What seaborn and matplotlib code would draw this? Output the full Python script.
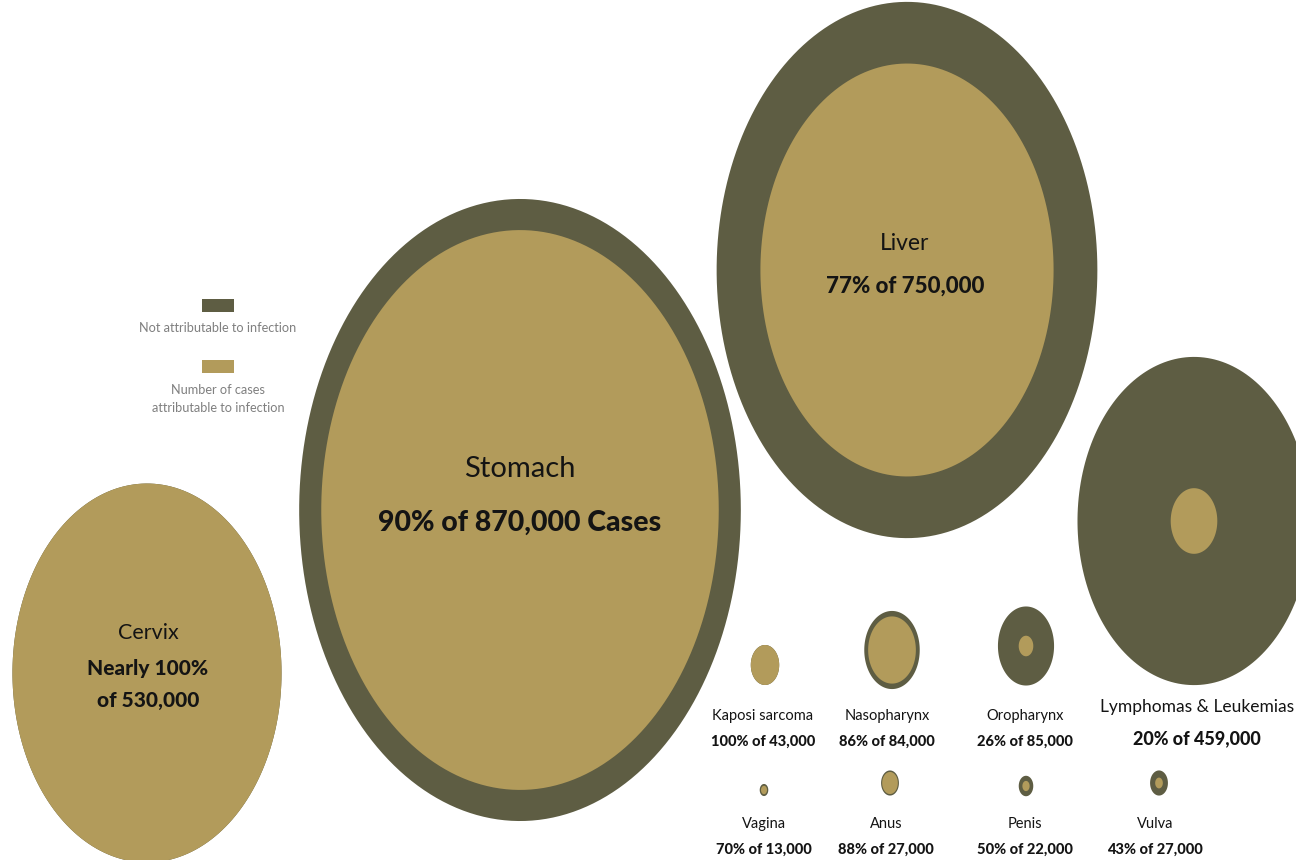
import numpy as np
import pandas as pd
import matplotlib
matplotlib.use('Agg')
import matplotlib.pyplot as plt
from matplotlib.path import Path
from matplotlib.patches import Rectangle
import seaborn as sns

# ── data ──────────────────────────
cancers = ["Cervix", "Stomach", "Liver", "Lymphomas & Leukemias",
           "Kaposi sarcoma", "Nasopharynx", "Oropharynx",
           "Vagina", "Anus", "Penis", "Vulva"]
total_cases = [530000, 870000, 750000, 459000,
               43000, 84000, 85000,
               13000, 27000, 22000, 27000]
pct_infection = [100, 90, 77, 20,
                 100, 86, 26,
                 70, 88, 50, 43]
pct_text = ["Nearly 100%", "90%", "77%", "20%",
            "100%", "86%", "26%",
            "70%", "88%", "50%", "43%"]
group = ["main"] * 4 + ["small"] * 7

# ── layout (pixel positions on a 1296x860 canvas) ──────────────────────────
pos_x = [147, 520, 907, 1194, 765, 892, 1026, 764, 890, 1026, 1159]
pos_y = [673, 510, 270, 521, 665, 650, 646, 790, 783, 786, 783]

DPI = 100
W, H = 1296, 860
DARK = '#5e5d43'
TAN = '#b29b5b'
TXT = '#141414'
px_per_k = {"main": 0.715, "small": 0.93}   # bubble height in px per 1000 cases
ASPECT = 0.71                               # the source is stretched vertically

df = pd.DataFrame({'cancer': cancers, 'total': total_cases, 'pct': pct_infection,
                   'group': group, 'x': pos_x, 'y': pos_y})
df['attrib'] = df['total'] * df['pct'] / 100
scale = df['group'].map(px_per_k)
# marker size is an area in pt^2; the ellipse marker height equals sqrt(s) points
df['s_outer'] = (df['total'] / 1000 * scale * 72 / DPI) ** 2
df['s_inner'] = (df['attrib'] / 1000 * scale * 72 / DPI) ** 2

# ellipse marker (height 1, width ASPECT)
t = np.linspace(0, 2 * np.pi, 200)
ell = Path(np.column_stack([ASPECT * np.cos(t), np.sin(t)]), closed=True)

sns.set_style('white')
fig = plt.figure(figsize=(W / DPI, H / DPI), dpi=DPI)
ax = fig.add_axes([0, 0, 1, 1])
ax.set_xlim(0, W)
ax.set_ylim(H, 0)
ax.axis('off')

sns.scatterplot(data=df, x='x', y='y', s=df['s_outer'].values, marker=ell,
                color=DARK, edgecolor='none', linewidth=0, legend=False, ax=ax)
sns.scatterplot(data=df, x='x', y='y', s=df['s_inner'].values, marker=ell,
                color=TAN, edgecolor='none', linewidth=0, legend=False, ax=ax)

FONT = 'Lato'

def fmt(n):
    return f"{n:,}"

def label(x, y, s, size, bold=False):
    ax.text(x, y, s, ha='center', va='center', fontsize=size, color=TXT,
            family=FONT, fontweight='black' if bold else 'normal')

# big bubble labels
label(520, 469, "Stomach", 21)
label(520, 523, f"{pct_text[1]} of {fmt(total_cases[1])} Cases", 20.5, bold=True)
label(905, 244, "Liver", 16.5)
label(905, 286, f"{pct_text[2]} of {fmt(total_cases[2])}", 16, bold=True)
label(148, 633, "Cervix", 15.5)
label(148, 668, pct_text[0], 15, bold=True)
label(148, 700, f"of {fmt(total_cases[0])}", 15, bold=True)
label(1197, 707, cancers[3], 12.5)
label(1197, 739, f"{pct_text[3]} of {fmt(total_cases[3])}", 13, bold=True)

# small bubble labels
label_pos = {4: (763, 716), 5: (887, 716), 6: (1025, 716),
             7: (764, 824), 8: (886, 824), 9: (1025, 824), 10: (1155, 824)}
for i, (lx, ly) in label_pos.items():
    label(lx, ly, cancers[i], 10.5)
    label(lx, ly + 26, f"{pct_text[i]} of {fmt(total_cases[i])}", 10.5, bold=True)

# legend
ax.add_patch(Rectangle((202, 299), 32, 13, color=DARK, lw=0))
ax.text(218, 328, "Not attributable to infection", ha='center', va='center',
        fontsize=9.2, color='#808080', family=FONT)
ax.add_patch(Rectangle((202, 360), 32, 13, color=TAN, lw=0))
ax.text(218, 390, "Number of cases", ha='center', va='center',
        fontsize=9.2, color='#808080', family=FONT)
ax.text(218, 408, "attributable to infection", ha='center', va='center',
        fontsize=9.2, color='#808080', family=FONT)

fig.savefig('out.png', dpi=DPI)
